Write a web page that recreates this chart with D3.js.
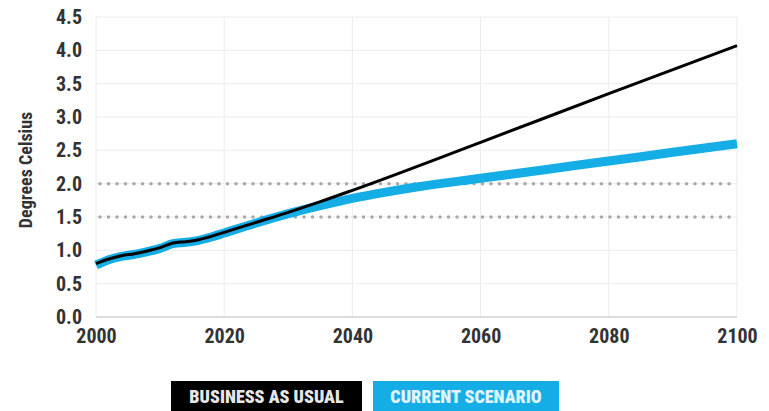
<!DOCTYPE html>
<html>
<head>
<meta charset="utf-8">
<script src="https://cdn.jsdelivr.net/npm/d3@7"></script>
<style>
  body { margin: 0; background: #fff; }
  svg text { font-family: "Roboto Condensed", "Liberation Sans Narrow", Roboto, sans-serif; font-weight: 700; }
</style>
</head>
<body>
<svg id="drawing_region"></svg>
<script>
// values
const years_bau = [2000, 2002, 2004, 2006, 2008, 2010, 2012, 2014, 2016, 2018, 2020, 2025, 2030, 2035, 2040, 2060, 2080, 2100];
const temp_bau  = [0.80, 0.87, 0.92, 0.95, 0.99, 1.04, 1.11, 1.13, 1.16, 1.21, 1.27, 1.42, 1.57, 1.73, 1.90, 2.62, 3.35, 4.07];
const years_cur = [2000, 2002, 2004, 2006, 2008, 2010, 2012, 2014, 2016, 2018, 2020, 2025, 2030, 2035, 2040, 2045, 2050, 2060, 2070, 2080, 2090, 2100];
const temp_cur  = [0.78, 0.86, 0.91, 0.94, 0.98, 1.03, 1.10, 1.12, 1.15, 1.20, 1.26, 1.41, 1.55, 1.67, 1.78, 1.87, 1.95, 2.08, 2.21, 2.34, 2.47, 2.60];
const yticks = [0, 0.5, 1.0, 1.5, 2.0, 2.5, 3.0, 3.5, 4.0, 4.5];
const xticks = [2000, 2020, 2040, 2060, 2080, 2100];
const thresholds = [1.5, 2.0];
const legend_labels = ["BUSINESS AS USUAL", "CURRENT SCENARIO"];

const config = {
    width: 769,
    height: 411,
    margin: {top: 17, right: 32, bottom: 94, left: 96}
};
const blue = '#14ade6';

const svg = d3.select('#drawing_region')
    .attr('width', config.width)
    .attr('height', config.height);
const chart = svg.append('g')
    .attr('transform', `translate(${config.margin.left}, ${config.margin.top})`);

const inner_width = config.width - config.margin.left - config.margin.right;
const inner_height = config.height - config.margin.top - config.margin.bottom;

const xscale = d3.scaleLinear().domain([2000, 2100]).range([0, inner_width]);
const yscale = d3.scaleLinear().domain([0, 4.5]).range([inner_height, 0]);

// grid
chart.selectAll('.hgrid').data(yticks.filter(d => d > 0))
    .enter().append('line')
    .attr('x1', 0).attr('x2', inner_width)
    .attr('y1', d => yscale(d)).attr('y2', d => yscale(d))
    .attr('stroke', '#ececec').attr('stroke-width', 1);
chart.selectAll('.vgrid').data(xticks)
    .enter().append('line')
    .attr('x1', d => xscale(d)).attr('x2', d => xscale(d))
    .attr('y1', 0).attr('y2', inner_height)
    .attr('stroke', '#ececec').attr('stroke-width', 1);
chart.append('line')
    .attr('x1', 0).attr('x2', inner_width)
    .attr('y1', yscale(0)).attr('y2', yscale(0))
    .attr('stroke', '#d0d0d0').attr('stroke-width', 1.5);

// dotted thresholds
chart.selectAll('.thr').data(thresholds)
    .enter().append('line')
    .attr('x1', 4).attr('x2', inner_width)
    .attr('y1', d => yscale(d)).attr('y2', d => yscale(d))
    .attr('stroke', '#a8a8a8').attr('stroke-width', 3.5)
    .attr('stroke-linecap', 'round')
    .attr('stroke-dasharray', '0 8.5');

// axes
const yaxis = d3.axisLeft(yscale).tickValues(yticks).tickFormat(d3.format('.1f')).tickSize(0).tickPadding(14);
const xaxis = d3.axisBottom(xscale).tickValues(xticks).tickFormat(d3.format('d')).tickSize(0).tickPadding(12);
const yaxis_group = chart.append('g').call(yaxis);
const xaxis_group = chart.append('g').attr('transform', `translate(0, ${inner_height})`).call(xaxis);
[yaxis_group, xaxis_group].forEach(g => {
    g.select('.domain').remove();
    g.selectAll('text').attr('font-size', 20).attr('fill', '#333')
        .style('font-family', '"Roboto Condensed", "Liberation Sans Narrow", Roboto, sans-serif')
        .style('font-weight', 700);
});

svg.append('text')
    .attr('transform', `translate(32, 170) rotate(-90)`)
    .attr('text-anchor', 'middle')
    .attr('font-size', 18)
    .attr('fill', '#333')
    .text('Degrees Celsius');

// lines
const line = d3.line().x(d => xscale(d[0])).y(d => yscale(d[1])).curve(d3.curveMonotoneX);
chart.append('path')
    .datum(d3.zip(years_cur, temp_cur))
    .attr('d', line)
    .attr('fill', 'none').attr('stroke', blue).attr('stroke-width', 9);
chart.append('path')
    .datum(d3.zip(years_bau, temp_bau))
    .attr('d', line)
    .attr('fill', 'none').attr('stroke', '#000').attr('stroke-width', 3);

// legend
const legend = svg.append('g');
const items = [
    {label: legend_labels[0], x: 171, w: 191, fill: '#000', color: '#e6e6e6'},
    {label: legend_labels[1], x: 373, w: 186, fill: blue, color: '#e0f4fb'}
];
legend.selectAll('rect').data(items).enter().append('rect')
    .attr('x', d => d.x).attr('y', 381).attr('width', d => d.w).attr('height', 30)
    .attr('fill', d => d.fill);
legend.selectAll('text').data(items).enter().append('text')
    .attr('x', d => d.x + d.w / 2).attr('y', 403)
    .attr('text-anchor', 'middle')
    .attr('font-size', 18)
    .attr('fill', d => d.color)
    .style('font-weight', 900)
    .text(d => d.label);
</script>
</body>
</html>
